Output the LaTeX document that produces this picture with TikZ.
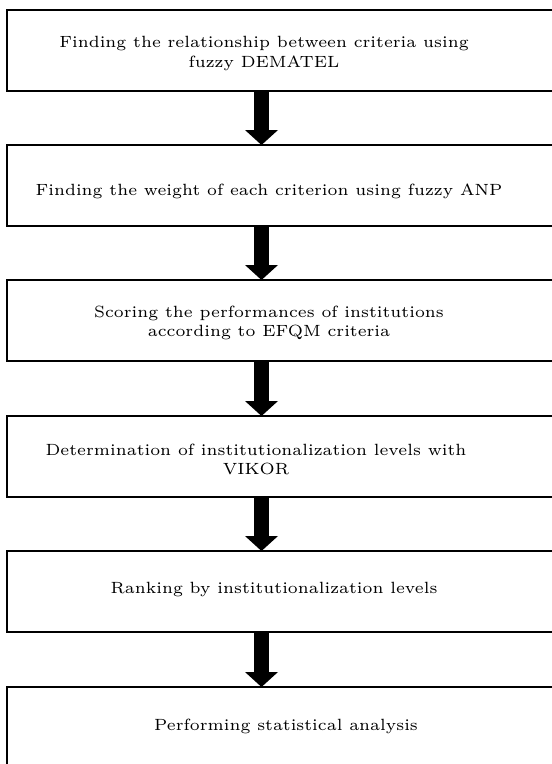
\documentclass[tikz,border=0pt]{standalone}
\usepackage{graphicx}
\usetikzlibrary{arrows.meta}

\newcommand{\steptxt}[1]{\scalebox{2.71}{\fontsize{6}{7.2}\selectfont\begin{tabular}{@{}c@{}}#1\end{tabular}}}

\begin{document}
\begin{tikzpicture}[x=1pt,y=1pt,yscale=-1,
  stepbox/.style={draw,line width=1.9pt,minimum width=575pt,minimum height=81pt,inner sep=0pt,outer sep=0pt,anchor=north west},
  steplabel/.style={inner sep=0pt},
  flow/.style={line width=15pt,-{Triangle[width=33pt,length=15pt,line width=0pt]}}]
\useasboundingbox (0,0) rectangle (552,764);

%Shape: Rectangle
\node[stepbox] (b1) at (7,10) {};
%Shape: Rectangle
\node[stepbox] (b2) at (7,145) {};
%Shape: Rectangle
\node[stepbox] (b3) at (7,280) {};
%Shape: Rectangle
\node[stepbox] (b4) at (7,416) {};
%Shape: Rectangle
\node[stepbox] (b5) at (7,551) {};
%Shape: Rectangle
\node[stepbox] (b6) at (7,687) {};

\coordinate (spine) at (261.5,0);
%Arrows
\draw[flow] (b1.south -| spine) -- (b2.north -| spine);
\draw[flow] (b2.south -| spine) -- (b3.north -| spine);
\draw[flow] (b3.south -| spine) -- (b4.north -| spine);
\draw[flow] (b4.south -| spine) -- (b5.north -| spine);
\draw[flow] (b5.south -| spine) -- (b6.north -| spine);

% Text Node
\node[steplabel] (t1) at (264,53.5) {\steptxt{Finding the relationship between criteria using\\fuzzy DEMATEL}};
% Text Node
\node[steplabel] (t2) at (269,192) {\steptxt{Finding the weight of each criterion using fuzzy ANP}};
% Text Node
\node[steplabel] (t3) at (269,323) {\steptxt{Scoring the performances of institutions\\according to EFQM criteria}};
% Text Node
\node[steplabel] (t4) at (256,461) {\steptxt{Determination of institutionalization levels with\\VIKOR}};
% Text Node
\node[steplabel] (t5) at (274,590) {\steptxt{Ranking by institutionalization levels}};
% Text Node
\node[steplabel] (t6) at (286,727) {\steptxt{Performing statistical analysis}};

\end{tikzpicture}
\end{document}
